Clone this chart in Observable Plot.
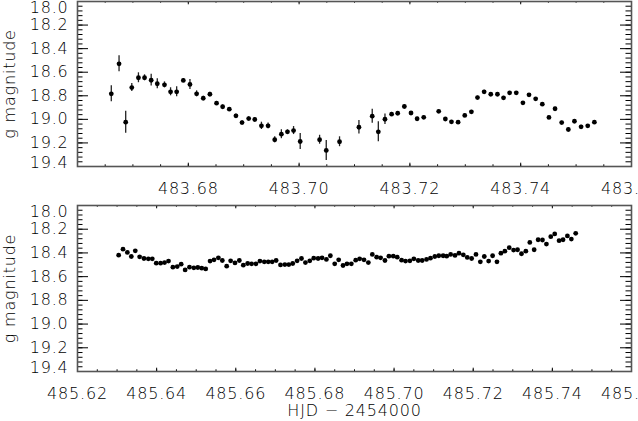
<!DOCTYPE html>
<html><head><meta charset="utf-8">
<script src="https://cdn.jsdelivr.net/npm/d3@7"></script>
<script src="https://cdn.jsdelivr.net/npm/@observablehq/plot@0.6"></script>
<style>
body{margin:0;background:#fff;width:638px;height:421px;overflow:hidden;}
#chart svg{display:block;}
</style></head><body><div id="chart"></div>
<script>
// Top panel (night 483): HJD, g magnitude, error
const hjdTop = [483.6661,483.6675,483.6687,483.6698,483.6710,483.6721,483.6733,483.6744,483.6757,483.6768,
  483.6779,483.6791,483.6803,483.6815,483.6827,483.6839,483.6851,483.6862,483.6874,483.6886,
  483.6897,483.6909,483.6920,483.6932,483.6944,483.6956,483.6968,483.6979,483.6990,483.7002,
  483.7037,483.7049,483.7073,483.7108,483.7132,483.7143,483.7155,483.7167,483.7178,483.7190,
  483.7202,483.7213,483.7225,483.7252,483.7264,483.7275,483.7287,483.7299,483.7311,483.7322,
  483.7334,483.7346,483.7358,483.7369,483.7380,483.7392,483.7404,483.7415,483.7427,483.7439,
  483.7451,483.7462,483.7474,483.7486,483.7497,483.7509,483.7521,483.7533];
const magTop = [18.783,18.529,19.024,18.730,18.647,18.647,18.668,18.698,18.707,18.766,
  18.766,18.670,18.704,18.783,18.821,18.787,18.863,18.893,18.914,18.970,
  19.027,18.993,19.001,19.055,19.055,19.173,19.126,19.106,19.095,19.188,
  19.173,19.264,19.190,19.067,18.973,19.106,18.999,18.956,18.948,18.891,
  18.946,18.995,18.983,18.932,18.997,19.021,19.024,18.967,18.936,18.815,
  18.766,18.787,18.787,18.817,18.775,18.775,18.860,18.792,18.826,18.871,
  18.984,18.910,19.027,19.086,19.016,19.063,19.055,19.024];
const errTop = [0.068,0.068,0.093,0.034,0.042,0.025,0.050,0.042,0.025,0.034,
  0.042,0.017,0.042,0.025,0.017,0.017,0.015,0.015,0.015,0.015,
  0.015,0.015,0.015,0.031,0.025,0.025,0.038,0.017,0.034,0.068,
  0.038,0.085,0.042,0.057,0.059,0.085,0.045,0.015,0.012,0.012,
  0.012,0.012,0.012,0.012,0.012,0.012,0.012,0.012,0.012,0.012,
  0.012,0.012,0.012,0.012,0.012,0.012,0.012,0.012,0.012,0.012,
  0.012,0.012,0.012,0.012,0.012,0.012,0.012,0.012];

// Bottom panel (night 485): HJD, g magnitude
const hjdBot = [485.6304,485.6315,485.6326,485.6336,485.6346,485.6357,485.6368,485.6379,485.6389,485.6399,
  485.6410,485.6420,485.6430,485.6441,485.6452,485.6462,485.6472,485.6483,485.6494,485.6504,
  485.6514,485.6524,485.6535,485.6545,485.6556,485.6566,485.6577,485.6587,485.6598,485.6609,
  485.6619,485.6630,485.6640,485.6651,485.6661,485.6672,485.6682,485.6692,485.6702,485.6713,
  485.6724,485.6734,485.6744,485.6755,485.6766,485.6776,485.6787,485.6797,485.6808,485.6818,
  485.6829,485.6839,485.6850,485.6860,485.6871,485.6881,485.6892,485.6903,485.6913,485.6924,
  485.6935,485.6945,485.6956,485.6966,485.6977,485.6987,485.6998,485.7008,485.7019,485.7029,
  485.7040,485.7050,485.7061,485.7071,485.7082,485.7092,485.7103,485.7113,485.7124,485.7133,
  485.7143,485.7154,485.7164,485.7175,485.7185,485.7196,485.7207,485.7218,485.7228,485.7239,
  485.7249,485.7260,485.7270,485.7280,485.7291,485.7302,485.7312,485.7322,485.7333,485.7343,
  485.7354,485.7364,485.7375,485.7385,485.7396,485.7406,485.7417,485.7427,485.7438,485.7448,
  485.7459];
const magBot = [18.419,18.368,18.396,18.430,18.382,18.433,18.447,18.450,18.450,18.486,
  18.486,18.481,18.469,18.520,18.515,18.495,18.543,18.520,18.526,18.523,
  18.529,18.535,18.469,18.458,18.441,18.464,18.512,18.467,18.484,18.464,
  18.503,18.489,18.492,18.492,18.469,18.475,18.475,18.475,18.464,18.501,
  18.498,18.498,18.489,18.467,18.447,18.481,18.467,18.444,18.447,18.441,
  18.455,18.424,18.492,18.458,18.506,18.492,18.492,18.461,18.450,18.458,
  18.481,18.413,18.436,18.441,18.464,18.427,18.427,18.436,18.461,18.469,
  18.467,18.450,18.464,18.464,18.455,18.444,18.430,18.424,18.424,18.427,
  18.413,18.421,18.402,18.416,18.438,18.447,18.413,18.475,18.430,18.469,
  18.424,18.475,18.402,18.385,18.356,18.376,18.373,18.407,18.385,18.311,
  18.373,18.289,18.291,18.325,18.263,18.240,18.297,18.289,18.257,18.283,
  18.235];

// Axis ticks and labels
const magTicks = [18.0,18.2,18.4,18.6,18.8,19.0,19.2,19.4];
const topDomain = [483.66, 483.76];
const topTicks = [483.66,483.68,483.70,483.72,483.74,483.76];
const topLabels = [483.68,483.70,483.72,483.74,483.76];
const botDomain = [485.62, 485.76];
const botTicks = [485.62,485.64,485.66,485.68,485.70,485.72,485.74,485.76];
const botLabels = [485.62,485.64,485.66,485.68,485.70,485.72,485.74,485.76];
const yTitle = "g magnitude";
const xTitle = "HJD \u2212 2454000";

const W = 638, ML = 77, MR = 7;
const FONT = {fontFamily: "'DejaVu Sans', sans-serif", fontSize: "16px", fontWeight: 200, letterSpacing: "0.8px", background: "transparent"};

function panel({hjd, mag, err, xDomain, xTicks, xLabels, height, marginTop, marginBottom, xTitleText}) {
  const ph = height - marginTop - marginBottom;
  const pw = W - ML - MR;
  const pts = hjd.map((t, i) => ({t, m: mag[i], e: err ? err[i] : 0}));
  const yMinor = d3.range(0, 36).map(i => 18 + i * 0.04);
  const nx = Math.round((xDomain[1] - xDomain[0]) / 0.005);
  const xMinor = d3.range(0, nx + 1).map(i => xDomain[0] + i * 0.005);
  const fmtY = d => d.toFixed(1);
  const fmtX = d => d.toFixed(2);
  const marks = [
    // y ticks, left and right, inward
    Plot.tickY(yMinor, {y: d => d, insetRight: pw - 5.5, stroke: "#000", strokeWidth: 1}),
    Plot.tickY(magTicks, {y: d => d, insetRight: pw - 11, stroke: "#000", strokeWidth: 1}),
    Plot.tickY(yMinor, {y: d => d, insetLeft: pw - 5.5, stroke: "#000", strokeWidth: 1}),
    Plot.tickY(magTicks, {y: d => d, insetLeft: pw - 11, stroke: "#000", strokeWidth: 1}),
    // x ticks, bottom and top, inward
    Plot.tickX(xMinor, {x: d => d, insetTop: ph - 1.7, stroke: "#000", strokeWidth: 1}),
    Plot.tickX(xTicks, {x: d => d, insetTop: ph - 3.3, stroke: "#000", strokeWidth: 1}),
    Plot.tickX(xMinor, {x: d => d, insetBottom: ph - 1.7, stroke: "#000", strokeWidth: 1}),
    Plot.tickX(xTicks, {x: d => d, insetBottom: ph - 3.3, stroke: "#000", strokeWidth: 1}),
    Plot.frame({stroke: "#555", strokeWidth: 1.6}),
    // tick labels
    Plot.axisY(magTicks.slice(1, -1), {tickSize: 0, tickPadding: 9, tickFormat: fmtY, label: null, fill: "#000"}),
    Plot.axisY([magTicks[0]], {tickSize: 0, tickPadding: 9, tickFormat: fmtY, label: null, dy: 6, fill: "#000"}),
    Plot.axisY([magTicks[magTicks.length - 1]], {tickSize: 0, tickPadding: 9, tickFormat: fmtY, label: null, dy: -4, fill: "#000"}),
    Plot.axisX(xLabels, {tickSize: 0, tickPadding: 16, tickFormat: fmtX, label: null, fill: "#000"}),
    Plot.text([yTitle], {frameAnchor: "left", textAnchor: "middle", rotate: -90, dx: -68, fill: "#000"}),
    // data
    Plot.ruleX(pts.filter(d => d.e > 0), {x: "t", y1: d => d.m - d.e, y2: d => d.m + d.e, stroke: "#222", strokeWidth: 1.3}),
    Plot.dot(pts, {x: "t", y: "m", r: 2.4, fill: "#000", stroke: "none"})
  ];
  if (xTitleText) marks.push(Plot.text([xTitleText], {frameAnchor: "bottom", dy: 44, lineAnchor: "bottom", fill: "#000"}));
  return Plot.plot({
    width: W, height, marginLeft: ML, marginRight: MR, marginTop, marginBottom,
    style: FONT,
    x: {domain: xDomain, label: null},
    y: {domain: [18.0, 19.4], reverse: true, label: null},
    marks
  });
}

const chart = document.getElementById("chart");
chart.append(panel({hjd: hjdTop, mag: magTop, err: errTop, xDomain: topDomain, xTicks: topTicks, xLabels: topLabels,
  height: 200, marginTop: 1, marginBottom: 34}));
chart.append(panel({hjd: hjdBot, mag: magBot, err: null, xDomain: botDomain, xTicks: botTicks, xLabels: botLabels,
  height: 221, marginTop: 5, marginBottom: 50, xTitleText: xTitle}));
</script></body></html>
